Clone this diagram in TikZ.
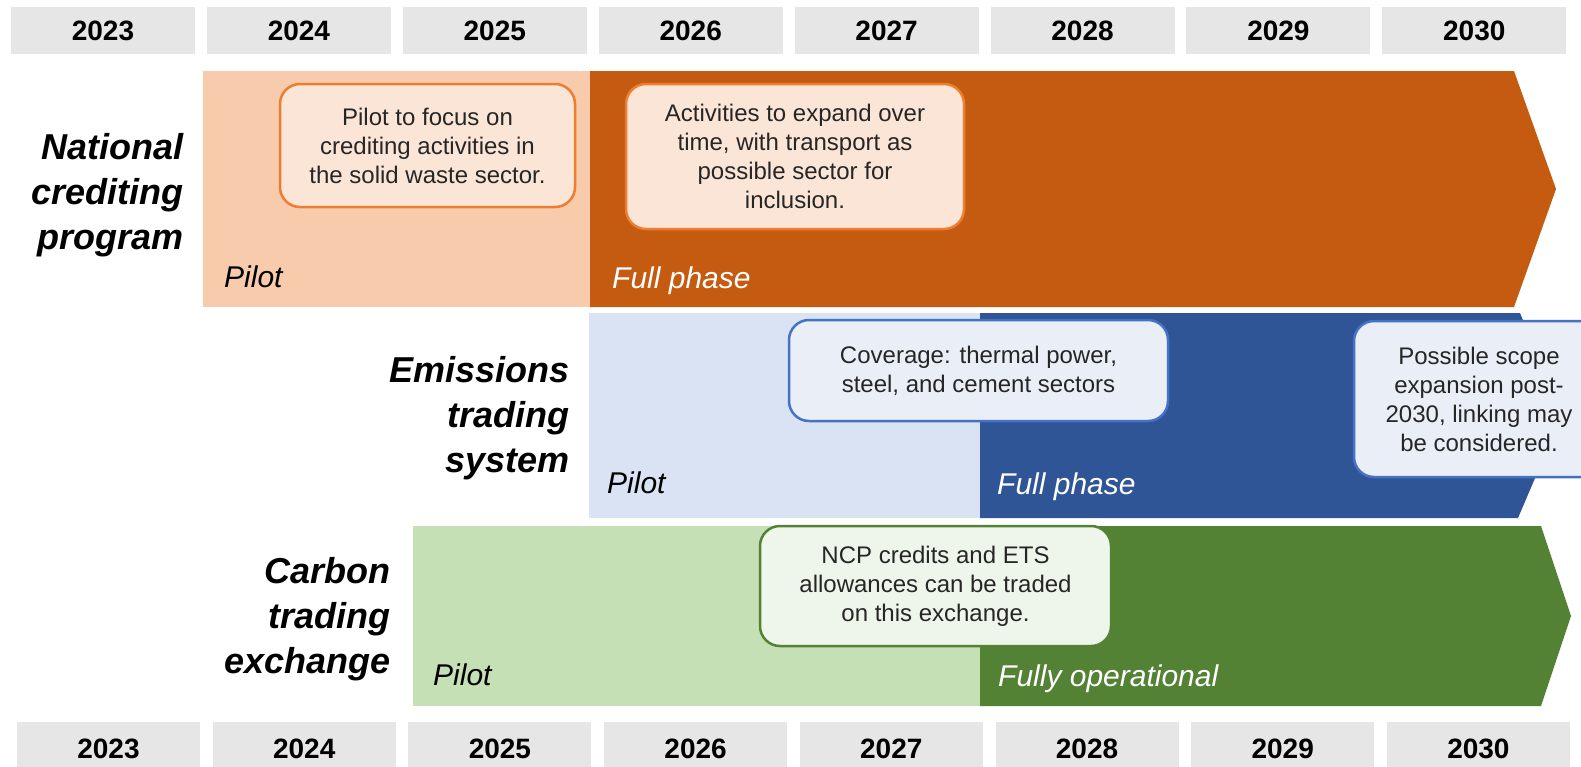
\documentclass[tikz,border=0pt]{standalone}
\usepackage{fontspec}
\setmainfont{Liberation Sans}
\definecolor{yeargray}{HTML}{E6E6E6}
\definecolor{ncplight}{HTML}{F8CBAD}
\definecolor{ncpdark}{HTML}{C55A11}
\definecolor{ncpnote}{HTML}{FBE5D6}
\definecolor{ncpline}{HTML}{ED7D31}
\definecolor{etslight}{HTML}{DAE3F3}
\definecolor{etsdark}{HTML}{2F5597}
\definecolor{etsnote}{HTML}{E9EEF7}
\definecolor{etsline}{HTML}{4472C4}
\definecolor{ctelight}{HTML}{C5E0B4}
\definecolor{ctedark}{HTML}{548235}
\definecolor{ctenote}{HTML}{EEF5EA}
\definecolor{cteline}{HTML}{548235}
\definecolor{notetext}{HTML}{262626}
\tikzset{
    yearbox/.style={fill=yeargray, minimum width=184pt, minimum height=47pt, inner sep=0pt, font=\fontsize{28}{34}\selectfont\bfseries},
    notebox/.style={draw=#1line, fill=#1note, line width=2.5pt, rounded corners=20pt, align=center, inner sep=0pt, text=notetext, font=\fontsize{24}{29}\selectfont},
    rowlabel/.style={anchor=east, align=right, inner sep=0pt, font=\fontsize{36}{45}\selectfont\bfseries\itshape},
    phaselabel/.style={anchor=base west, inner sep=0pt, font=\fontsize{30}{36}\selectfont\itshape},
}
\begin{document}
\begin{tikzpicture}[x=1pt,y=-1pt]
    \useasboundingbox (0,0) rectangle (1581,766);
    \clip (0,0) rectangle (1581,766);

    \node [yearbox] (top23) at (103,30.5) {2023};
    \node [yearbox] (top24) at (298.9,30.5) {2024};
    \node [yearbox] (top25) at (494.8,30.5) {2025};
    \node [yearbox] (top26) at (690.7,30.5) {2026};
    \node [yearbox] (top27) at (886.6,30.5) {2027};
    \node [yearbox] (top28) at (1082.5,30.5) {2028};
    \node [yearbox] (top29) at (1278.4,30.5) {2029};
    \node [yearbox] (top30) at (1474.3,30.5) {2030};

    \node [yearbox, minimum height=54pt, minimum width=183pt] (bot23) at (108.5,749) {2023};
    \node [yearbox, minimum height=54pt, minimum width=183pt] (bot24) at (304.2,749) {2024};
    \node [yearbox, minimum height=54pt, minimum width=183pt] (bot25) at (499.9,749) {2025};
    \node [yearbox, minimum height=54pt, minimum width=183pt] (bot26) at (695.6,749) {2026};
    \node [yearbox, minimum height=54pt, minimum width=183pt] (bot27) at (891.3,749) {2027};
    \node [yearbox, minimum height=54pt, minimum width=183pt] (bot28) at (1087,749) {2028};
    \node [yearbox, minimum height=54pt, minimum width=183pt] (bot29) at (1282.7,749) {2029};
    \node [yearbox, minimum height=54pt, minimum width=183pt] (bot30) at (1478.4,749) {2030};

    \fill [ncplight] (203,71) rectangle (590,307);
    \fill [ncpdark] (590,71)--(1514,71)--(1556,189)--(1514,307)--(590,307)--cycle;

    \fill [etslight] (589,313) rectangle (980,518);
    \fill [etsdark] (980,313)--(1520,313)--(1562,415)--(1518,518)--(980,518)--cycle;

    \fill [ctelight] (413,526) rectangle (980,706);
    \fill [ctedark] (980,526)--(1541,526)--(1571,616)--(1541,706)--(980,706)--cycle;

    \node [phaselabel] (ncppilot) at (224,287) {Pilot};
    \node [phaselabel, text=white] (ncpfull) at (612,288) {Full phase};
    \node [phaselabel] (etspilot) at (607,493) {Pilot};
    \node [phaselabel, text=white] (etsfull) at (997,494) {Full phase};
    \node [phaselabel] (ctepilot) at (433,685) {Pilot};
    \node [phaselabel, text=white] (ctefull) at (998,686) {Fully operational};

    \node [notebox=ncp, minimum width=295pt, minimum height=123pt] (ncpnoteA) at (427.5,145.5)
        {Pilot to focus on\\crediting activities in\\the solid waste sector.};
    \node [notebox=ncp, minimum width=338pt, minimum height=145pt] (ncpnoteB) at (795,156.5)
        {Activities to expand over\\time, with transport as\\possible sector for\\inclusion.};
    \node [notebox=ets, minimum width=379pt, minimum height=101pt] (etsnoteA) at (978.5,370.5)
        {Coverage: thermal power,\\steel, and cement sectors};
    \node [notebox=ets, minimum width=250pt, minimum height=156pt] (etsnoteB) at (1479,399)
        {Possible scope\\expansion post-\\2030, linking may\\be considered.};
    \node [notebox=cte, minimum width=351pt, minimum height=120pt] (ctenoteA) at (935.5,586)
        {NCP credits and ETS\\allowances can be traded\\on this exchange.};

    \node [rowlabel] (ncplabel) at (184,195) {National\\crediting\\program};
    \node [rowlabel] (etslabel) at (570,418) {Emissions\\trading\\system};
    \node [rowlabel] (ctelabel) at (391,619) {Carbon\\trading\\exchange};

\end{tikzpicture}
\end{document}
